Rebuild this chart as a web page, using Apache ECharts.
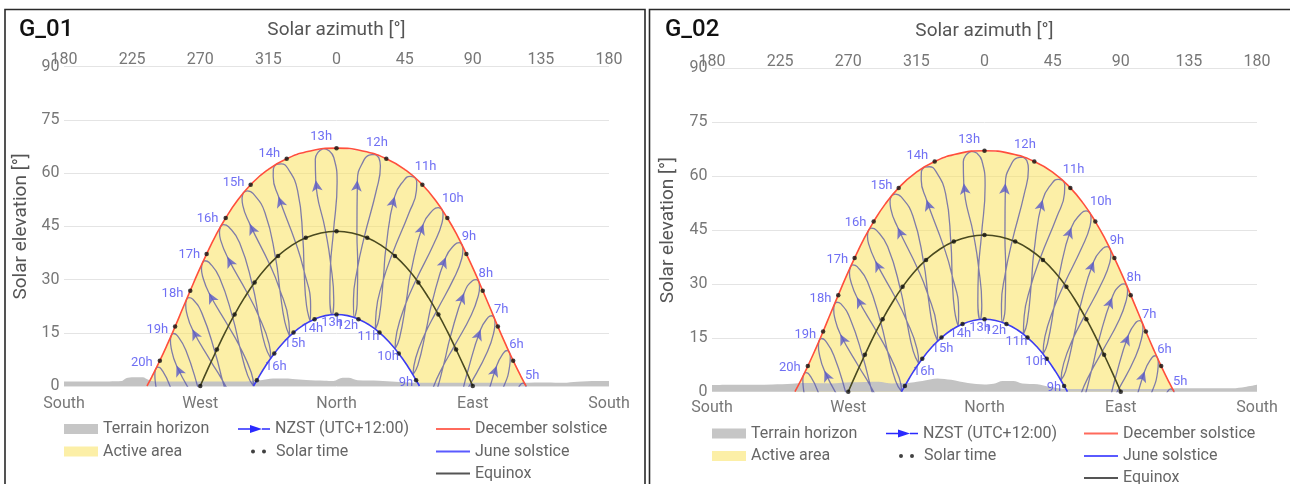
<!DOCTYPE html>
<html><head><meta charset="utf-8">
<script src="https://cdn.jsdelivr.net/npm/echarts@6/dist/echarts.min.js"></script>
<style>html,body{margin:0;padding:0;background:#fff}#c{width:1290px;height:484px}</style>
</head><body><div id="c"></div>
<script>
// ---------- axis labels ----------
const azimuthTickLabels = ['180','225','270','315','0','45','90','135','180'];
const compassLabels = ['South','West','North','East','South'];

// ---------- December solstice path (west -> east), solar time in hours ----------
const decAz = [-125.2,-121.9,-116.7,-111.6,-106.6,-101.7,-96.6,-91.4,-85.8,-79.9,-73.2,-65.6,-56.7,-46.0,-32.9,-17.3,0,17.3,32.9,46.0,56.7,65.6,73.2,79.9,85.8,91.4,96.6,101.7,106.6,111.6,116.7,121.9,125.2];
const decEl = [0,2.64,7.14,11.86,16.74,21.76,26.87,32.02,37.19,42.32,47.35,52.20,56.72,60.77,64.05,66.26,67.04,66.26,64.05,60.77,56.72,52.20,47.35,42.32,37.19,32.02,26.87,21.76,16.74,11.86,7.14,2.64,0];
const decSolarTime = [19.81,19.5,19,18.5,18,17.5,17,16.5,16,15.5,15,14.5,14,13.5,13,12.5,12,11.5,11,10.5,10,9.5,9,8.5,8,7.5,7,6.5,6,5.5,5,4.5,4.19];

// ---------- June solstice path ----------
const junAz = [-54.8,-52.6,-47.0,-41.1,-34.9,-28.4,-21.6,-14.5,-7.3,0,7.3,14.5,21.6,28.4,34.9,41.1,47.0,52.6,54.8];
const junEl = [0,1.62,5.57,9.17,12.35,15.06,17.24,18.84,19.83,20.16,19.83,18.84,17.24,15.06,12.35,9.17,5.57,1.62,0];
const junSolarTime = [16.19,16,15.5,15,14.5,14,13.5,13,12.5,12,11.5,11,10.5,10,9.5,9,8.5,8,7.81];

// ---------- Equinox path ----------
const equAz = [-90,-84.6,-79.0,-73.3,-67.3,-60.9,-54.1,-46.7,-38.6,-29.8,-20.3,-10.3,0,10.3,20.3,29.8,38.6,46.7,54.1,60.9,67.3,73.3,79.0,84.6,90];
const equEl = [0,5.16,10.28,15.30,20.17,24.82,29.18,33.17,36.67,39.58,41.77,43.14,43.60,43.14,41.77,39.58,36.67,33.17,29.18,24.82,20.17,15.30,10.28,5.16,0];
const equSolarTime = [18,17.5,17,16.5,16,15.5,15,14.5,14,13.5,13,12.5,12,11.5,11,10.5,10,9.5,9,8.5,8,7.5,7,6.5,6];

// ---------- NZST hour analemmas (one point per date) ----------
const analemmaDates = ['21 Dec','3 Jan','17 Jan','12 Feb','20 Mar','15 Apr','14 May','21 Jun','26 Jul','1 Sep','22 Sep','3 Nov','25 Nov','8 Dec'];
const analemmaHours = ['5h','6h','7h','8h','9h','10h','11h','12h','13h','14h','15h','16h','17h','18h','19h','20h'];
const analemmaAz = [
 [124.6,125.4,125.1,121.7,111.5,103.0,95.2,92.0,96.4,104.1,108.5,116.6,121.0,123.1],
 [114.2,114.8,114.4,110.4,99.9,91.6,84.4,81.4,85.4,92.7,97.2,105.8,110.5,112.7],
 [104.2,104.7,104.1,99.8,89.0,80.8,74.0,71.4,75.1,81.9,86.3,95.2,100.3,102.6],
 [94.0,94.5,93.8,89.1,77.9,69.9,63.5,61.2,64.7,71.0,75.1,84.3,89.8,92.3],
 [82.9,83.5,82.8,77.6,66.1,58.2,52.3,50.5,53.7,59.2,63.0,72.2,78.2,81.0],
 [69.6,70.4,69.7,64.3,52.7,45.2,39.9,38.7,41.6,46.1,49.1,57.4,64.0,67.2],
 [51.6,53.0,52.8,47.8,36.9,30.3,26.2,25.7,28.2,31.0,32.6,38.4,44.8,48.6],
 [25.4,28.0,29.0,26.3,18.4,13.7,11.2,11.7,13.6,14.0,13.5,13.8,18.0,21.6],
 [-8.8,-5.2,-1.8,0.4,-2.0,-4.0,-4.4,-2.9,-1.8,-4.1,-7.1,-13.7,-14.0,-12.1],
 [-39.7,-36.5,-32.1,-25.7,-22.2,-21.3,-19.8,-17.3,-17.1,-21.8,-26.9,-38.3,-41.8,-41.7],
 [-61.4,-58.9,-55.0,-47.3,-40.2,-37.2,-34.1,-31.0,-31.5,-38.0,-44.2,-57.3,-61.9,-62.4],
 [-76.6,-74.7,-71.3,-64.0,-55.5,-51.2,-47.1,-43.4,-44.5,-52.2,-58.9,-72.1,-76.6,-77.3],
 [-88.6,-87.0,-84.1,-77.3,-68.5,-63.6,-58.7,-54.8,-56.3,-64.6,-71.5,-84.3,-88.5,-89.2],
 [-99.1,-97.6,-95.0,-88.8,-80.1,-74.8,-69.5,-65.3,-67.2,-75.9,-82.8,-95.2,-99.0,-99.6],
 [-109.1,-107.7,-105.3,-99.5,-91.1,-85.6,-79.9,-75.3,-77.5,-86.7,-93.7,-105.7,-109.2,-109.7],
 [-119.3,-117.9,-115.6,-110.1,-102.1,-96.6,-90.4,-85.4,-87.9,-97.7,-104.9,-116.5,-119.7,-120.0]
];
const analemmaEl = [
 [0.5,-0.8,-3.3,-9.5,-19.3,-25.4,-31.0,-35.2,-33.3,-24.2,-16.9,-3.9,0.1,0.8],
 [9.5,8.1,5.7,-0.2,-9.3,-15.1,-20.7,-24.9,-23.0,-14.0,-6.8,5.7,9.4,10.0],
 [19.2,17.8,15.5,9.8,1.0,-4.8,-10.5,-14.8,-12.8,-3.6,3.6,15.9,19.4,19.8],
 [29.4,28.0,25.7,20.1,11.3,5.2,-0.9,-5.3,-3.1,6.4,13.7,26.2,29.7,30.0],
 [39.8,38.3,36.0,30.4,21.1,14.5,7.9,3.2,5.8,15.8,23.4,36.3,39.9,40.4],
 [49.8,48.4,46.0,40.1,30.0,22.6,15.3,10.5,13.4,24.0,32.0,45.7,49.7,50.3],
 [58.8,57.5,55.1,48.7,37.3,29.0,21.0,16.0,19.3,30.5,38.7,53.4,58.1,59.1],
 [65.3,64.3,62.0,55.1,42.1,32.8,24.3,19.3,23.0,34.4,42.8,58.0,63.6,65.1],
 [66.9,66.4,64.4,57.4,43.6,33.7,24.9,20.1,24.1,35.3,43.4,58.0,63.9,65.9],
 [62.5,62.6,61.3,55.1,41.4,31.5,22.7,18.3,22.4,33.0,40.3,53.4,59.0,61.2],
 [54.5,55.0,54.2,48.9,36.0,26.4,18.0,14.1,18.1,27.8,34.3,45.7,50.9,53.0],
 [44.9,45.5,44.9,40.4,28.4,19.2,11.3,7.8,11.8,20.5,26.2,36.4,41.2,43.3],
 [34.6,35.3,34.8,30.6,19.2,10.5,3.0,0.0,3.8,11.7,16.9,26.3,31.0,33.1],
 [24.3,24.9,24.5,20.4,9.3,0.8,-6.3,-9.0,-5.3,2.0,6.8,16.0,20.7,22.8],
 [14.3,14.8,14.3,10.1,-1.0,-9.4,-16.2,-18.7,-15.2,-8.2,-3.6,5.8,10.7,12.8],
 [4.9,5.3,4.7,0.1,-11.3,-19.7,-26.5,-28.9,-25.4,-18.6,-13.7,-3.8,1.2,3.4]
];
const JUNE_IDX = analemmaDates.indexOf('21 Jun');
const ARROW_IDX = analemmaDates.indexOf('3 Nov');

// ---------- terrain horizons ----------
const g01TerrainAz = [-180,-150,-142,-139,-134,-128,-124,-120,-90,-60,-50,-42,-35,-29,-20,-8,-2,4,8,14,28,39,50,90,123,139,150,159,172,180];
const g01TerrainEl = [1.3,1.3,1.4,2.2,2.5,2.5,1.7,1.3,1.3,1.3,1.6,2.1,2.1,2.0,1.7,1.5,1.4,2.3,2.3,1.6,1.5,1.2,0.95,0.95,0.95,1.0,0.9,1.2,1.4,1.4];
const g02TerrainAz = [-180,-163,-140,-127,-119,-101,-88,-70,-61,-52,-41,-31,-22,-11,0,6,12,19,25,35,43,52,63,120,129,151,164,172,180];
const g02TerrainEl = [1.85,1.9,2.0,2.2,2.4,2.3,2.6,2.8,2.3,2.4,3.0,3.7,3.3,2.4,2.0,2.2,3.0,3.0,2.3,2.1,1.4,0.85,0.75,0.75,0.95,0.95,0.95,1.3,1.9];

// ---------- styles ----------
const YELLOW = 'rgba(250,226,95,0.55)';
const YELLOW_SOLID = '#fcefa7';
const GRAY = '#c3c3c3';
const LOOP = 'rgba(80,80,168,0.72)';
const ARROW = '#5a5ac8';
const LABEL = '#4b4bf0';
const DEC = '#ff4f3c';
const JUN = '#3d3df2';
const EQU = '#4a4a20';
const NZST = 'NZST (UTC+12:00)';
const FONT = 'Roboto';

const PANELS = [
  {title:'G_01', left:64, top:66.7, width:545, height:319.3, border:[5,9.5,640,480], titleX:19,
   dx:0, dy:0, topMargin:-1, bottomMargin:10, yGap:33, xGap:27, terrainAz:g01TerrainAz, terrainEl:g01TerrainEl},
  {title:'G_02', left:712, top:68.3, width:545, height:323.4, border:[649.5,9.5,645,480], titleX:665,
   dx:648, dy:4.5, topMargin:-2, bottomMargin:8.5, yGap:34, xGap:28, terrainAz:g02TerrainAz, terrainEl:g02TerrainEl}
];

function decOffset(h){
  if (h <= 9) return [7, 0];
  if (h <= 11) return [11, -3];
  if (h === 12) return [2, -4];
  if (h === 13) return [-2, -4];
  if (h === 14) return [-7, -3];
  if (h === 15) return [-10, -2];
  if (h <= 17) return [-13, 0];
  return [-14, 2];
}
function junOffset(h){
  if (h <= 12) return [-7, 0];
  if (h === 13) return [0, 0];
  if (h === 14) return [2, 0];
  return [5, 0];
}

const grids = [], xAxes = [], yAxes = [], series = [], legends = [], graphics = [];
const arrowSeriesIndex = [];

PANELS.forEach((P, p) => {
  grids.push({left:P.left, top:P.top, width:P.width, height:P.height});
  xAxes.push({type:'value', gridIndex:p, position:'top', min:-180, max:180, interval:45,
    axisLine:{show:false}, axisTick:{show:false}, splitLine:{show:false},
    axisLabel:{color:'#777', fontSize:16, fontFamily:FONT, margin:P.topMargin,
      formatter:v => azimuthTickLabels[Math.round((v+180)/45)]},
    name:'Solar azimuth [°]', nameLocation:'middle', nameGap:P.xGap,
    nameTextStyle:{fontSize:19, color:'#555', fontFamily:FONT}});
  xAxes.push({type:'value', gridIndex:p, position:'bottom', min:-180, max:180, interval:90,
    axisLine:{show:false}, axisTick:{show:false}, splitLine:{show:false},
    axisLabel:{color:'#777', fontSize:16, fontFamily:FONT, margin:P.bottomMargin,
      formatter:v => compassLabels[Math.round((v+180)/90)]}});
  yAxes.push({type:'value', gridIndex:p, min:0, max:90, interval:15,
    axisLine:{show:false}, axisTick:{show:false},
    splitLine:{lineStyle:{color:'#e4e4e4', width:1}},
    axisLabel:{color:'#777', fontSize:16, fontFamily:FONT, margin:4.5},
    name:'Solar elevation [°]', nameLocation:'middle', nameGap:P.yGap,
    nameTextStyle:{fontSize:19, color:'#555', fontFamily:FONT}});

  const base = {xAxisIndex:2*p+1, yAxisIndex:p};

  // active area: between December and June paths, down to horizon
  series.push(Object.assign({}, base, {type:'custom', name:'Active area', silent:true, z:1, clip:true,
    data:[[0,0]], itemStyle:{color:YELLOW_SOLID},
    renderItem:(params, api) => {
      const pts = [];
      decAz.forEach((a,i) => pts.push(api.coord([a, decEl[i]])));
      for (let i = junAz.length-1; i >= 0; i--) pts.push(api.coord([junAz[i], junEl[i]]));
      return {type:'polygon', shape:{points:pts}, style:{fill:YELLOW}};
    }}));

  // terrain horizon
  series.push(Object.assign({}, base, {type:'line', name:'Terrain horizon', silent:true, z:2,
    data:P.terrainAz.map((a,i) => [a, P.terrainEl[i]]), symbol:'none', smooth:0.3,
    lineStyle:{width:0}, areaStyle:{color:GRAY, opacity:1}, itemStyle:{color:GRAY}}));

  // analemmas
  analemmaAz.forEach((azs,k) => {
    const pts = azs.map((a,i) => [a, analemmaEl[k][i]]);
    pts.push(pts[0]);
    series.push(Object.assign({}, base, {type:'line', name:NZST, silent:true, z:3, clip:true,
      data:pts, symbol:'none', smooth:0.5,
      lineStyle:{color:LOOP, width:1.3}, itemStyle:{color:LOOP}}));
  });

  // arrows (filled after first layout)
  arrowSeriesIndex.push(series.length);
  series.push(Object.assign({}, base, {type:'scatter', name:NZST, silent:true, z:4,
    symbol:'arrow', symbolSize:[8,11], itemStyle:{color:ARROW}, data:[]}));

  // day paths
  const dayLine = (name, az, el, color) => Object.assign({}, base, {type:'line', name, silent:true, z:5,
    data:az.map((a,i) => [a, el[i]]), symbol:'none', smooth:true,
    lineStyle:{color, width:1.6}, itemStyle:{color}});
  series.push(dayLine('December solstice', decAz, decEl, DEC));
  series.push(dayLine('June solstice', junAz, junEl, JUN));
  series.push(dayLine('Equinox', equAz, equEl, EQU));

  // solar time dots
  const dots = [];
  [[decAz,decEl,decSolarTime],[junAz,junEl,junSolarTime],[equAz,equEl,equSolarTime]].forEach(([az,el,t]) => {
    t.forEach((v,i) => { if (Number.isInteger(v)) dots.push([az[i], el[i]]); });
  });
  series.push(Object.assign({}, base, {type:'scatter', name:'Solar time', silent:true, z:6,
    data:dots, symbolSize:4.5, itemStyle:{color:'#111'}}));

  // hour labels
  const labels = [];
  analemmaHours.forEach((hs,k) => {
    const h = parseInt(hs, 10);
    labels.push({name:hs, value:[analemmaAz[k][0], analemmaEl[k][0]],
      label:{position:'top', distance:1, offset:decOffset(h)}});
    if (analemmaEl[k][JUNE_IDX] > 1) labels.push({name:hs, value:[analemmaAz[k][JUNE_IDX], analemmaEl[k][JUNE_IDX]],
      label:{position:'bottom', distance:1, offset:junOffset(h)}});
  });
  series.push(Object.assign({}, base, {type:'scatter', silent:true, z:8, clip:false,
    data:labels, symbolSize:1, itemStyle:{color:'rgba(0,0,0,0)'},
    label:{show:true, formatter:'{b}', color:LABEL, fontSize:13, fontFamily:FONT}}));

  // legends
  const L = (name, left, cy, icon, w, h, color, pad) => legends.push({
    left:left + P.dx, top:cy + P.dy - 9, padding:0, itemWidth:w, itemHeight:h, selectedMode:false,
    textStyle:{fontSize:16, color:'#666', fontFamily:FONT, lineHeight:18, padding:pad || 0},
    data:[{name, icon, itemStyle:{color, borderWidth:0}}]});
  L('Terrain horizon', 64, 429, 'rect', 34, 10, '#c6c6c6');
  L('Active area', 64, 451.5, 'rect', 34, 10, YELLOW_SOLID);
  L(NZST, 238, 429, 'path://M0,3.3L12,3.3L12,0L24,4L12,8L12,4.7L0,4.7ZM24,3.3L32,3.3L32,4.7L24,4.7Z', 32, 8, '#2a2aff');
  L('Solar time', 251, 451.5, 'path://M0,2a2,2 0 1,0 4,0a2,2 0 1,0 -4,0zM11,2a2,2 0 1,0 4,0a2,2 0 1,0 -4,0z', 15, 4, '#111', [0,0,0,5]);
  L('December solstice', 436, 429, 'rect', 34, 2, '#ff6a5c');
  L('June solstice', 436, 451.5, 'rect', 34, 2, '#5a5aff');
  L('Equinox', 436, 473.5, 'rect', 34, 2, '#555');

  // frame and panel title
  const b = P.border;
  graphics.push({type:'rect', silent:true, shape:{x:b[0], y:b[1], width:b[2], height:b[3]},
    style:{fill:'none', stroke:'#2a2a2a', lineWidth:1.6}});
  graphics.push({type:'text', silent:true, x:P.titleX, y:30,
    style:{text:P.title, fontSize:24, fontWeight:500, fontFamily:FONT, fill:'#111', verticalAlign:'middle'}});
});

const option = {
  animation:false,
  textStyle:{fontFamily:FONT},
  grid:grids, xAxis:xAxes, yAxis:yAxes, series, legend:legends, graphic:graphics
};

const chart = echarts.init(document.getElementById('c'), null, {renderer:'canvas', width:1290, height:484});
chart.setOption(option);

// arrows at the 3 Nov point of each analemma, pointing along the path
PANELS.forEach((P, p) => {
  const data = [];
  analemmaAz.forEach((azs,k) => {
    const els = analemmaEl[k];
    if (els[ARROW_IDX] < 2) return;
    const a = chart.convertToPixel({gridIndex:p}, [azs[ARROW_IDX-1], els[ARROW_IDX-1]]);
    const c = chart.convertToPixel({gridIndex:p}, [azs[ARROW_IDX+1], els[ARROW_IDX+1]]);
    const rot = Math.atan2(-(c[0]-a[0]), -(c[1]-a[1])) * 180 / Math.PI;
    data.push({value:[azs[ARROW_IDX], els[ARROW_IDX]], symbolRotate:rot});
  });
  option.series[arrowSeriesIndex[p]].data = data;
});
chart.setOption(option);
</script></body></html>
